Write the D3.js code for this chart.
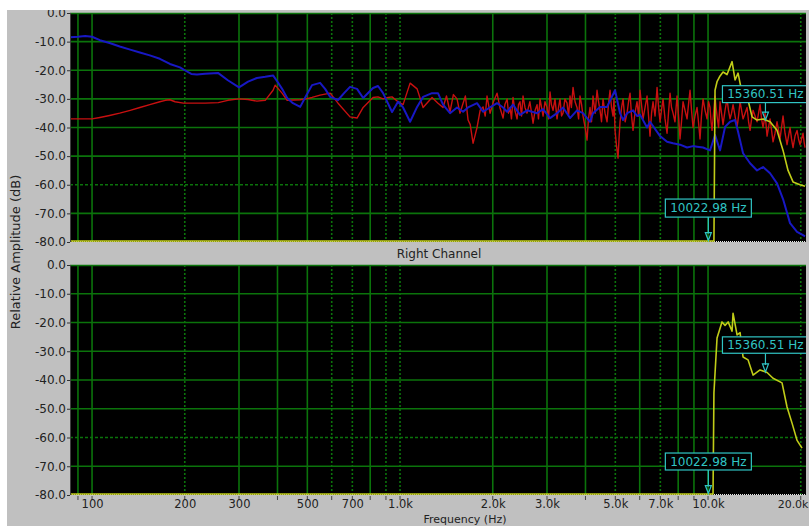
<!DOCTYPE html>
<html><head><meta charset="utf-8">
<script src="https://cdn.jsdelivr.net/npm/d3@7"></script>
<style>
body{margin:0;background:#fff;}
svg{display:block;font-family:"DejaVu Sans",sans-serif;}
</style>
</head><body>
<svg id="c" width="809" height="526"></svg>
<script>
// ---------------- data ----------------
const redFreq = [85,90,100,106,114,123,133,143,154,166,173,179,186,198,219,233,257,276,300,321,343,365,387,393,414,430,474,495,518,550,593,629,688,725,759,817,848,881,914,942,985,1023,1078,1136,1188,1270,1328,1379,
1415,1453,1490,1531,1565,1602,1630,1663,1690,1726,1750,1778,1820,1860,1890,1916,1960,2010,2065,2110,2160,2190,2226,2250,2276,2300,2327,2360,2398,2425,2452,2480,2508,2545,2584,2640,2703,2745,2785,2815,2848,2880,2913,2955,3001,3035,3069,3100,3139,3185,3234,3270,3307,3345,3382,3430,3485,3525,3564,3600,3645,3700,3755,3800,3840,3885,3928,3990,4047,4090,4139,4185,4232,4300,4361,4410,4460,4510,4561,4630,4700,4750,4806,4860,4915,4950,4989,5040,5102,5140,5179,5240,5297,5380,5458,5520,5582,5645,5708,5790,5881,5950,6014,6080,6152,6245,6338,6410,6481,6555,6628,6730,6830,6910,6985,7060,7143,7250,7360,7440,7527,7610,7698,7810,7932,8020,8111,8200,8295,8420,8547,8640,8741,8840,8939,9070,9211,9310,9419,9520,9634,9780,9926,10040,10150,10230,10304,10420,10537,10620,10696,10820,10940,11060,11187,11356,11527,11650,11789,11920,12057,12240,12424,12560,12705,12850,12993,13190,13388,13540,13691,13850,14001,14210,14427,14590,14753,14920,15088,15200,15316,15430,15548,15720,15899,16080,16259,16500,16749,16940,17130,17320,17519,17780,18051,18250,18460,18670,18880,19160,19454,19670,19893,20120,20345,20500,20652];
const redDb = [-37,-37,-37,-36.5,-35.8,-35,-34,-33,-32,-31,-30.5,-30.3,-31,-31.5,-31.5,-31.5,-31.3,-30.5,-30,-30.2,-30.8,-30.5,-27,-25.2,-28,-30.5,-30.3,-30,-29.5,-28.7,-28,-31.5,-36.3,-36.7,-33,-29.5,-29.3,-30,-29.5,-29.3,-31,-32,-24.5,-26.5,-33,-29.5,-31.5,-33,
-29,-34.5,-28.5,-30,-35,-31.5,-29,-37.4,-39,-45.5,-43,-40,-34,-32.8,-36,-29,-35,-31,-28,-33,-36.7,-32,-30,-35,-33,-37,-29.5,-34,-37,-32,-31,-36,-29,-33,-35,-31,-38.5,-34,-32,-37,-30,-33,-36,-31,-33,-37,-27.6,-32,-34,-30,-37,-33,-30,-36,-35,-30,-31.5,-36,-29,-33,-26,-31,-33,-37,-29,-32,-36,-40,-44.4,-37,-33,-38,-29,-35,-27,-31,-34,-38,-30,-35,-38,-32,-27,-33,-36,-30,-41,-46,-50.7,-44,-38,-33,-30,-38,-35,-31,-28,-36,-41,-35,-31,-36,-27,-32,-37,-33,-29,-36,-43,-35,-31,-36,-26,-33,-38,-34,-30,-37,-42,-35,-28,-33,-35,-38,-29,-36,-44,-38,-31,-34,-37,-32,-27,-34,-40,-36,-33,-38,-44,-36,-30,-34,-37,-31,-33,-38,-41,-35,-29,-33,-36,-40,-31,-35,-39,-34,-30,-34,-37,-35,-32,-36,-40,-36,-31,-34,-37,-35,-33,-38,-41,-37,-34,-36,-38,-35,-32,-37,-40,-38,-35,-39,-43,-40,-37,-41,-45,-42,-38,-41,-44,-40,-36,-42,-46,-43,-40,-44,-47,-43,-41,-44,-46,-44,-42,-45,-47];

const blueFreq = [85,90,95,100,106,114,123,133,143,154,166,179,193,200,210,219,233,257,276,300,321,343,365,387,400,414,430,449,474,495,518,550,571,593,629,658,688,725,759,817,848,881,942,985,1023,1078,1136,1188,1270,1328,1379,1453,1531,1602,1663,1778,1860,1960,2065,2160,2226,2327,2452,2584,2785,2913,3069,3234,3382,3564,3755,3928,4047,4139,4232,4460,4700,4989,5179,5297,5458,5708,5881,6014,6338,6481,6985,7360,7698,8111,8547,8939,9211,9634,10150,10537,10940,11356,11789,12239,12516,12993,13691,14427,15088,15899,16749,17519,18460,19454,20345,20652];
const blueDb = [-8.5,-8.3,-8,-8.3,-9.5,-10.5,-11.7,-12.8,-13.8,-14.8,-16,-17.8,-19,-20,-21.3,-21.5,-21.2,-21,-23.5,-26,-24,-22.7,-22.3,-21.8,-24,-26.5,-29.7,-31.5,-32.8,-29,-25.2,-24.4,-26.5,-29.3,-30.4,-28,-25.8,-26.5,-29.7,-26.2,-25.5,-28,-34.6,-31,-33,-38,-32.8,-29.3,-28,-28,-32,-35,-33,-34.5,-33,-31.5,-34.5,-33,-31.5,-33,-34.5,-32,-35.6,-34,-35,-33.6,-36.7,-35,-33,-36.7,-34,-35,-36.7,-38,-35,-32.8,-32.8,-27,-35,-37.4,-35,-34,-36,-35.5,-40,-38,-43,-45,-45.5,-46,-47,-46.5,-46.7,-47,-48,-42.6,-48,-39.8,-38,-37.4,-41.5,-49,-52.5,-55,-53.8,-56,-59.5,-65,-73.4,-76.5,-77.6,-78];

const yellowTopFreq = [85,10304,10450,10537,10696,10940,11187,11527,11967,12239,12516,12897,13388,13898,14427,15088,15899,16749,17519,18186,18880,19893,20652];
const yellowTopDb = [-80,-80,-80,-27,-24,-22,-20.6,-21.5,-17,-23.4,-21,-28,-29,-36.3,-37.4,-37,-38,-41,-48,-55,-59,-60,-60.5];

const yellowBotFreq = [85,10304,10380,10450,10696,11100,11356,11620,11967,12057,12424,12705,12993,13488,14001,14753,15548,16259,17389,18051,18738,19454,20193];
const yellowBotDb = [-80,-80,-80,-44.5,-25.4,-19.8,-21,-19.8,-23,-16.8,-24.3,-23.5,-32,-33,-38.3,-36.5,-37.4,-39.4,-41,-49.4,-55,-61,-63.7];

const markerFreqs = [10022.98, 15360.51];
const markerLabels = ["10022.98 Hz", "15360.51 Hz"];

const yTickVals = [0,-10,-20,-30,-40,-50,-60,-70,-80];
const yTickLabels = ["0.0","-10.0","-20.0","-30.0","-40.0","-50.0","-60.0","-70.0","-80.0"];
const xTickVals = [100,200,300,500,700,1000,2000,3000,5000,7000,10000,20000];
const xTickLabels = ["100","200","300","500","700","1.0k","2.0k","3.0k","5.0k","7.0k","10.0k","20.0k"];
const gridFreqs = [90,100,200,300,400,500,600,700,800,900,1000,2000,3000,4000,5000,6000,7000,8000,9000,10000,20000];
const dashedFreqs = [200,600,700,900,1000,5000,7000,20000];
const gridDb = [-10,-20,-30,-40,-50,-60,-70];
const dashedDb = [-60];

// ---------------- drawing ----------------
const svg = d3.select("#c");
const X0 = 70, X1 = 806;
const x = d3.scaleLog().domain([84.8, 20800]).range([X0, X1]);
const panels = [
  {top:13, bottom:242, series:[
     {f:redFreq, v:redDb, color:"#c81010", w:1.4},
     {f:blueFreq, v:blueDb, color:"#1818c4", w:2},
     {f:yellowTopFreq, v:yellowTopDb, color:"#c0cc18", w:1.6}],
   mk:[{t:-65,b:-71.3,tip:-79.5},{t:-25.4,b:-31.3,tip:-37.4}]},
  {top:265, bottom:495, series:[
     {f:yellowBotFreq, v:yellowBotDb, color:"#c0cc18", w:1.6}],
   mk:[{t:-65.4,b:-71.3,tip:-79.5},{t:-25,b:-30.7,tip:-37.2}]}
];
panels.forEach(p => p.y = d3.scaleLinear().domain([0,-80]).range([p.top, p.bottom]));

const defs = svg.append("defs");
defs.append("clipPath").attr("id","frame").append("rect")
  .attr("x",7).attr("y",10).attr("width",802).attr("height",516);

svg.append("rect").attr("x",7).attr("y",10).attr("width",802).attr("height",516).attr("fill","#c0c0c0");

const root = svg.append("g").attr("clip-path","url(#frame)");
const gridColor = "#0b730b";

panels.forEach((p,pi) => {
  defs.append("clipPath").attr("id","pc"+pi).append("rect")
    .attr("x",X0).attr("y",p.top-1).attr("width",X1-X0).attr("height",p.bottom-p.top+3);
  const g = root.append("g");
  g.append("rect").attr("x",X0).attr("y",p.top).attr("width",X1-X0).attr("height",p.bottom-p.top).attr("fill","#000");
  const pg = g.append("g").attr("clip-path","url(#pc"+pi+")");
  // grid
  pg.selectAll(".hg").data(gridDb).join("line")
    .attr("x1",X0).attr("x2",X1).attr("y1",d=>p.y(d)).attr("y2",d=>p.y(d))
    .attr("stroke",gridColor).attr("stroke-width",1.6)
    .attr("stroke-dasharray",d=>dashedDb.includes(d)?"3,2":null);
  pg.selectAll(".vg").data(gridFreqs).join("line")
    .attr("x1",d=>x(d)).attr("x2",d=>x(d)).attr("y1",p.top).attr("y2",p.bottom)
    .attr("stroke",gridColor).attr("stroke-width",1.6)
    .attr("stroke-dasharray",d=>dashedFreqs.includes(d)?"2,2":null);
  // borders
  pg.append("line").attr("x1",X0).attr("x2",X1).attr("y1",p.y(0)+0.5).attr("y2",p.y(0)+0.5)
    .attr("stroke",gridColor).attr("stroke-width",1.6);
  pg.append("line").attr("x1",X0).attr("x2",X1).attr("y1",p.y(-80)-0.5).attr("y2",p.y(-80)-0.5)
    .attr("stroke","#e8e8e8").attr("stroke-width",1).attr("stroke-dasharray","1,1");
  g.append("line").attr("x1",X0+0.5).attr("x2",X0+0.5).attr("y1",p.top).attr("y2",p.bottom)
    .attr("stroke","#404040").attr("stroke-width",1);
  // series
  p.series.forEach(s => {
    const pts = s.f.map((f,i)=>[x(f), Math.min(p.y(s.v[i]), p.bottom-1)]);
    pg.append("path").attr("d", d3.line()(pts))
      .attr("fill","none").attr("stroke",s.color).attr("stroke-width",s.w)
      .attr("stroke-linejoin","round");
  });
  // markers
  const mc = "#30c4c4";
  markerFreqs.forEach((f,i) => {
    const m = p.mk[i], cx = x(f), bw = 86;
    const yt = p.y(m.t), yb = p.y(m.b), tip = p.y(m.tip);
    pg.append("line").attr("x1",cx).attr("x2",cx).attr("y1",yb).attr("y2",tip-7)
      .attr("stroke",mc).attr("stroke-width",1.2);
    pg.append("path").attr("d",`M${cx-3},${tip-8}L${cx+3},${tip-8}L${cx},${tip}Z`)
      .attr("fill","none").attr("stroke",mc).attr("stroke-width",1.2);
    pg.append("rect").attr("x",cx-bw/2).attr("y",yt).attr("width",bw).attr("height",yb-yt)
      .attr("fill","#000").attr("stroke",mc).attr("stroke-width",1.2);
    pg.append("text").attr("x",cx).attr("y",(yt+yb)/2).attr("text-anchor","middle")
      .attr("dominant-baseline","central").attr("fill",mc).attr("font-size",12)
      .text(markerLabels[i]);
  });
  // y axis
  const ax = g.append("g").attr("transform",`translate(${X0},0)`)
    .call(d3.axisLeft(p.y).tickValues(yTickVals).tickFormat((d,i)=>yTickLabels[i]).tickSize(3).tickPadding(1));
  ax.select(".domain").remove();
  ax.selectAll("line").attr("stroke","#333");
  ax.selectAll("text").attr("fill","#222").attr("font-size",12).attr("font-family","DejaVu Sans");
});

// x axis under the lower panel
const pb = panels[1];
root.append("g").selectAll("line").data(gridFreqs).join("line")
  .attr("x1",d=>x(d)).attr("x2",d=>x(d)).attr("y1",pb.bottom+1).attr("y2",pb.bottom+5)
  .attr("stroke","#444").attr("stroke-width",1);
const xa = root.append("g").attr("transform",`translate(0,${pb.bottom})`)
  .call(d3.axisBottom(x).tickValues(xTickVals).tickFormat((d,i)=>xTickLabels[i]).tickSize(0).tickPadding(5));
xa.select(".domain").remove();
xa.selectAll("text").attr("fill","#222").attr("font-size",11.5).attr("font-family","DejaVu Sans");
// keep the last label inside the window
xa.selectAll(".tick").filter(d=>d===20000).select("text")
  .attr("text-anchor","end").attr("x",808 - x(20000)).attr("font-size",11);

// titles
root.append("text").attr("x",439).attr("y",254).attr("text-anchor","middle")
  .attr("dominant-baseline","central").attr("font-size",12).attr("fill","#222").text("Right Channel");
root.append("text").attr("x",465).attr("y",519.5).attr("text-anchor","middle")
  .attr("dominant-baseline","central").attr("font-size",11).attr("fill","#222").text("Frequency (Hz)");
root.append("text").attr("transform","translate(15,252) rotate(-90)").attr("text-anchor","middle")
  .attr("dominant-baseline","central").attr("font-size",13).attr("fill","#222").text("Relative Amplitude (dB)");
</script>
</body></html>
